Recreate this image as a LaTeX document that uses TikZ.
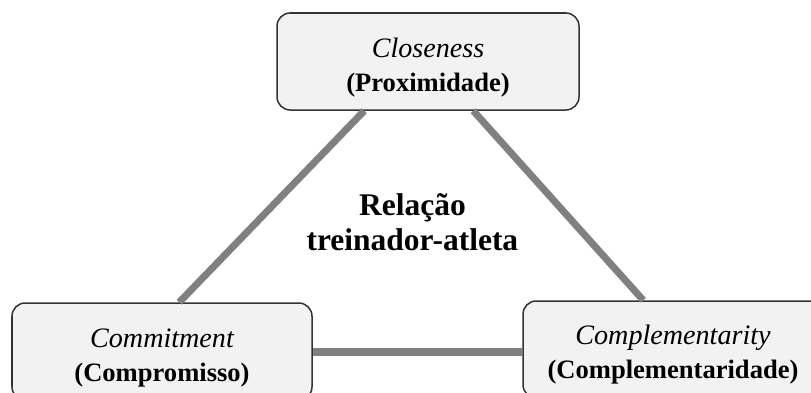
\documentclass[tikz,border=0pt]{standalone}
\usepackage{fontspec}
\setmainfont{Liberation Serif}
\usepackage{tikz}
\usetikzlibrary{positioning}

\begin{document}
\begin{tikzpicture}
\tikzstyle{every node} = [align=center, font=\fontsize{18.9}{24}\selectfont]
\tikzstyle{box} = [draw=black!80, fill=black!5, line width=1.07pt, rounded corners=.33cm, minimum width=7.5cm, minimum height=2.425cm]
\tikzstyle{link} = [draw=black!50, line width=5pt]
\clip (0,0) rectangle (20.275,9.8);
\useasboundingbox (0,0) rectangle (20.275,9.8);

\node[box, minimum width=7.55cm] (close) at (10.7,8.2625) {\rule{0pt}{.8cm}{\fontsize{20}{24}\selectfont\itshape Closeness}\\\textbf{(Proximidade)}};
\node[box] (commit) at (4.05,1.0125) {\rule{0pt}{.8cm}{\fontsize{20}{24}\selectfont\itshape Commitment}\\\textbf{(Compromisso)}};
\node[box] (compl) at (16.825,1.0625) {\rule{0pt}{.75cm}{\fontsize{20}{24}\selectfont\itshape Complementarity}\\\textbf{(Complementaridade)}};
\node[font=\fontsize{22.4}{25}\selectfont\bfseries] (rel) at (10.31,4.25) {Relação\\treinador-atleta};

% ligações
\draw[link] ([xshift=2.2cm]close.south west) -- ([xshift=4.2cm]commit.north west);
\draw[link] ([xshift=4.925cm]close.south west) -- ([xshift=3.025cm]compl.north west);
\draw[link] ([yshift=-.0125cm]commit.east) -- ([yshift=-.0125cm]commit.east -| compl.west);
\end{tikzpicture}
\end{document}
